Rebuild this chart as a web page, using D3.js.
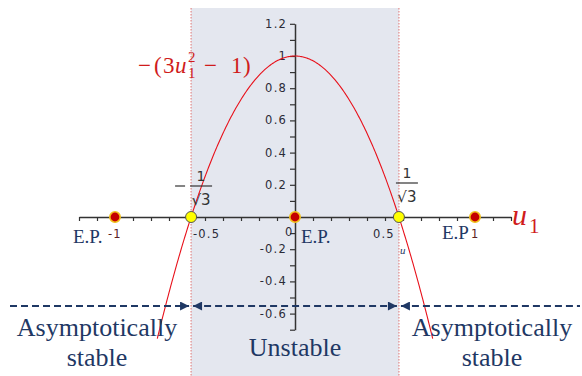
<!DOCTYPE html>
<html>
<head>
<meta charset="utf-8">
<script src="https://cdn.jsdelivr.net/npm/d3@7"></script>
<style>
  html, body { margin: 0; padding: 0; background: #ffffff; }
  svg { display: block; }
</style>
</head>
<body>
<svg id="chart" width="582" height="376"></svg>
<script>
// Phase line of du1/dt = -(3u1^2 - 1) for the linearised system
const xDomain = [-1.2, 1.2];
const yDomain = [-0.7, 1.2];
const xTickLabels = [-1, -0.5, 0, 0.5, 1];
const yTickLabels = [1.2, 1, 0.8, 0.6, 0.4, 0.2, -0.2, -0.4, -0.6];
const equilibria = [-1, 0, 1];                       // E.P. markers on the u1 axis
const boundaries = [-1 / Math.sqrt(3), 1 / Math.sqrt(3)]; // zeros of the curve
const curveRange = [-0.765, 0.765];
const regionLabels = [["Asymptotically", "stable"], ["Unstable"], ["Asymptotically", "stable"]];
const f = u => -(3 * u * u - 1);

const navy = "#1f3864";
const red = "#d01c1c";
const axisColor = "#333";
const tickFont = "DejaVu Sans, sans-serif";
const serif = "Liberation Serif, serif";

const svg = d3.select("#chart");
const x = d3.scaleLinear().domain(xDomain).range([79, 511]);
const y = d3.scaleLinear().domain(yDomain).range([329.7, 23.8]);

// unstable band between the two zeros
svg.append("rect")
  .attr("x", x(boundaries[0])).attr("y", 8)
  .attr("width", x(boundaries[1]) - x(boundaries[0])).attr("height", 368)
  .attr("fill", "#e4e7ef");
svg.selectAll("line.bound").data(boundaries).join("line")
  .attr("class", "bound")
  .attr("x1", d => x(d)).attr("x2", d => x(d))
  .attr("y1", 8).attr("y2", 376)
  .attr("stroke", "#e08a8a").attr("stroke-width", 1.2)
  .attr("stroke-dasharray", "1.5,1.5");

// axes
const xAxis = d3.axisBottom(x).ticks(24).tickSize(4).tickFormat("").tickSizeOuter(0);
const gx = svg.append("g").attr("transform", `translate(0,${y(0)})`).call(xAxis);
const yAxis = d3.axisLeft(y).ticks(19).tickSize(5).tickFormat("").tickSizeOuter(0);
const gy = svg.append("g").attr("transform", `translate(${x(0)},0)`).call(yAxis);
[gx, gy].forEach(g => {
  g.select(".domain").attr("stroke", axisColor).attr("stroke-width", 1.5);
  g.selectAll(".tick line").attr("stroke", axisColor).attr("stroke-width", 1.2);
});
gx.selectAll(".tick").filter(d => Math.abs(d) < 1e-9).remove();

// y tick labels
svg.selectAll("text.ylab").data(yTickLabels).join("text")
  .attr("class", "ylab")
  .attr("x", x(0) - 8).attr("y", d => y(d) + 4)
  .attr("text-anchor", "end")
  .attr("font-family", tickFont).attr("font-size", 11.5)
  .attr("letter-spacing", 1.2)
  .attr("fill", "#2b2b38")
  .text(d => String(d));

// x tick labels
const xLabelOffset = { "-1": -7, "-0.5": -12, "0": -10, "0.5": -12, "1": -4 };
svg.selectAll("text.xlab").data(xTickLabels).join("text")
  .attr("class", "xlab")
  .attr("x", d => x(d) + xLabelOffset[String(d)])
  .attr("y", d => d === 0 ? y(0) + 19 : y(0) + 21)
  .attr("font-family", tickFont).attr("font-size", 11.5)
  .attr("letter-spacing", 1.2)
  .attr("fill", d => Math.abs(d) === 1 ? "#5a2323" : "#2b2b38")
  .text(d => String(d));

// curve
const samples = d3.range(curveRange[0], curveRange[1] + 1e-9, 0.005);
svg.append("path")
  .datum(samples)
  .attr("d", d3.line().x(u => x(u)).y(u => y(f(u))))
  .attr("fill", "none").attr("stroke", "#e8101a").attr("stroke-width", 1.1);

// E.P. labels
const epLabel = { "-1": [-42, 26, "E.P."], "0": [6, 26, "E.P."], "1": [-33, 22, "E.P"] };
svg.selectAll("text.ep").data(equilibria).join("text")
  .attr("class", "ep")
  .attr("x", d => x(d) + epLabel[String(d)][0])
  .attr("y", d => y(0) + epLabel[String(d)][1])
  .attr("font-family", serif).attr("font-size", 19)
  .attr("fill", navy)
  .text(d => epLabel[String(d)][2]);

// equilibrium points
svg.selectAll("circle.ep").data(equilibria).join("circle")
  .attr("class", "ep")
  .attr("cx", d => x(d)).attr("cy", y(0)).attr("r", 5.2)
  .attr("fill", "#c40000").attr("stroke", "#f2c21b").attr("stroke-width", 1.6);
svg.selectAll("circle.bd").data(boundaries).join("circle")
  .attr("class", "bd")
  .attr("cx", d => x(d)).attr("cy", y(0)).attr("r", 5.5)
  .attr("fill", "#ffff00").attr("stroke", "#555").attr("stroke-width", 1);

// ±1/√3 labels
function fraction(cx, barY, sign) {
  const g = svg.append("g").attr("font-family", tickFont).attr("fill", "#333");
  g.append("text").attr("x", cx).attr("y", barY - 5).attr("text-anchor", "middle")
    .attr("font-size", 14).text("1");
  g.append("line").attr("x1", cx - 11).attr("x2", cx + 11).attr("y1", barY).attr("y2", barY)
    .attr("stroke", "#333").attr("stroke-width", 1.2);
  g.append("text").attr("x", cx).attr("y", barY + 19).attr("text-anchor", "middle")
    .attr("font-size", 15).text("√3");
  if (sign) {
    g.append("line").attr("x1", cx - 26).attr("x2", cx - 16).attr("y1", barY).attr("y2", barY)
      .attr("stroke", "#333").attr("stroke-width", 1.2);
  }
}
fraction(x(boundaries[0]) + 10, 186, true);
fraction(x(boundaries[1]) + 8, 183, false);

// small axis letter under right zero
svg.append("text").attr("x", x(boundaries[1]) + 1).attr("y", 254)
  .attr("font-family", serif).attr("font-style", "italic").attr("font-size", 11)
  .attr("fill", navy).text("u");

// u1 axis name
const ax = svg.append("text").attr("x", 512).attr("y", 225)
  .attr("font-family", serif).attr("font-size", 30).attr("fill", red);
ax.append("tspan").attr("font-style", "italic").text("u");
ax.append("tspan").attr("font-size", 21).attr("dx", 2).attr("dy", 8).text("1");

// formula label, set piece by piece
const fy = 73;
const formulaParts = [
  { t: "−", x: 138, dy: 0, size: 23 },
  { t: "(", x: 154, dy: 0, size: 23 },
  { t: "3", x: 163, dy: 0, size: 23 },
  { t: "u", x: 175, dy: 0, size: 23, italic: true },
  { t: "2", x: 188, dy: -11, size: 15 },
  { t: "1", x: 188, dy: 5, size: 15 },
  { t: "−", x: 204, dy: 0, size: 23 },
  { t: "1", x: 231, dy: 0, size: 23 },
  { t: ")", x: 243, dy: 0, size: 23 }
];
svg.selectAll("text.formula").data(formulaParts).join("text")
  .attr("class", "formula")
  .attr("x", d => d.x).attr("y", d => fy + d.dy)
  .attr("font-family", serif).attr("font-size", d => d.size)
  .attr("font-style", d => d.italic ? "italic" : "normal")
  .attr("fill", red)
  .text(d => d.t);

// stability arrows along the phase line
const defs = svg.append("defs");
defs.append("marker").attr("id", "ah").attr("viewBox", "0 0 10 10")
  .attr("refX", 10).attr("refY", 5).attr("markerWidth", 10).attr("markerHeight", 9)
  .attr("markerUnits", "userSpaceOnUse").attr("orient", "auto-start-reverse")
  .append("path").attr("d", "M0,0 L10,5 L0,10 Z").attr("fill", navy);
const arrowY = 306;
const segs = [
  [10, x(boundaries[0]) - 2, false, true],
  [x(boundaries[0]) + 2, x(boundaries[1]) - 2, true, true],
  [x(boundaries[1]) + 2, 580, true, false]
];
segs.forEach(([a, b, s, e]) => {
  svg.append("line").attr("x1", a).attr("x2", b).attr("y1", arrowY).attr("y2", arrowY)
    .attr("stroke", navy).attr("stroke-width", 2).attr("stroke-dasharray", "7,4")
    .attr("marker-start", s ? "url(#ah)" : null)
    .attr("marker-end", e ? "url(#ah)" : null);
});

// region captions
const centers = [97, x(0), 492];
const baselines = [[336, 366], [356], [336, 366]];
regionLabels.forEach((lines, i) => {
  lines.forEach((t, j) => {
    svg.append("text").attr("x", centers[i]).attr("y", baselines[i][j])
      .attr("text-anchor", "middle")
      .attr("font-family", serif).attr("font-size", 26).attr("fill", navy)
      .text(t);
  });
});
</script>
</body>
</html>
